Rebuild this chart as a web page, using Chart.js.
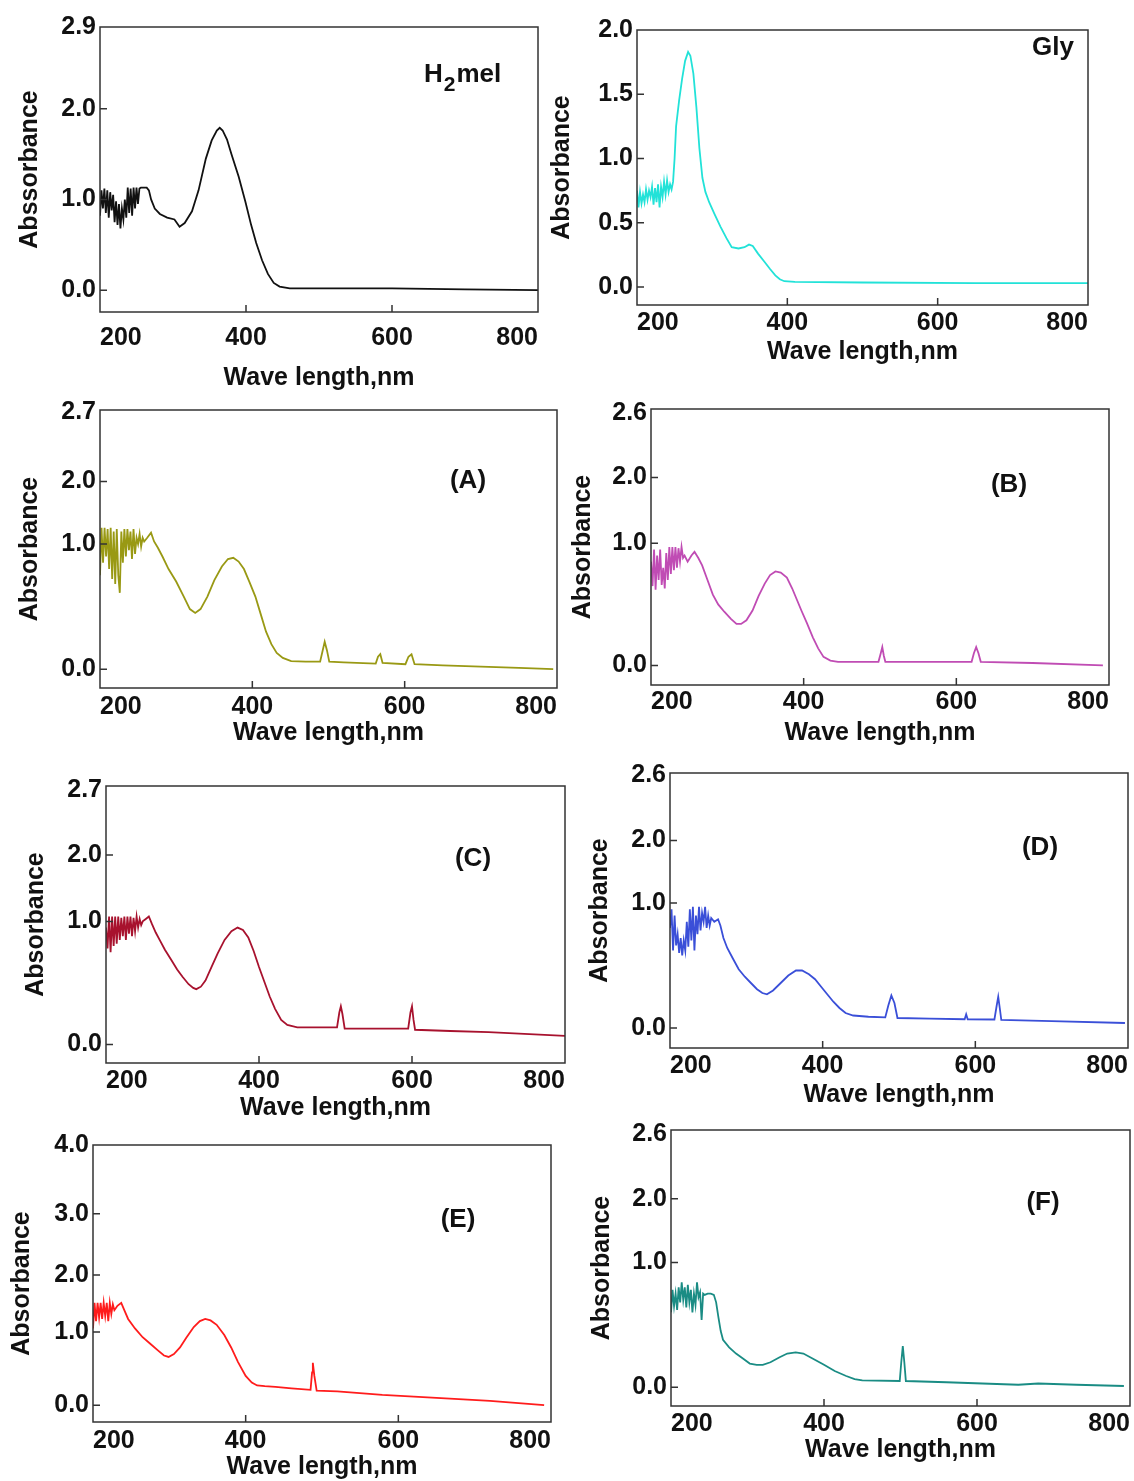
<!DOCTYPE html>
<html>
<head>
<meta charset="utf-8">
<script src="https://cdn.jsdelivr.net/npm/chart.js@4.4.1/dist/chart.umd.min.js"></script>
<style>
  body { margin: 0; background: #fff; }
  #page { position: relative; width: 1134px; height: 1481px; overflow: hidden; background: #fff; }
  .panel { position: absolute; }
</style>
</head>
<body>
<div id="page"></div>
<script>
// x axis (nm) is shared by all panels
const xTicks = [200, 400, 600, 800];

// H2mel (black)
const h2melWl = [200,202,204,206,208,210,212,214,216,218,220,222,224,226,228,230,232,234,236,238,240,242,244,246,248,250,252,254,256,
  260,264,267,270,275,282,292,302,309,316,326,335,345,353,360,364,368,374,380,390,399,407,414,422,430,438,446,460,600,700,800];
const h2melAbs = [0.82,1.10,0.90,1.12,0.85,1.10,0.80,1.08,0.88,1.05,0.75,0.98,0.72,0.95,0.68,0.90,0.78,1.00,0.80,1.13,0.85,1.12,0.82,1.13,0.90,1.13,0.95,1.12,1.13,
  1.13,1.13,1.10,1.00,0.90,0.84,0.80,0.78,0.70,0.74,0.87,1.10,1.45,1.65,1.76,1.79,1.76,1.66,1.50,1.25,0.98,0.72,0.52,0.33,0.18,0.08,0.04,0.02,0.02,0.01,0.0];
const h2melYTicks = [0, 1, 2, 2.9];
const h2melYLabels = ['0.0', '1.0', '2.0', '2.9'];

// Gly (cyan)
const glyWl = [200,202,204,206,208,210,212,214,216,218,220,222,224,226,228,230,232,234,236,238,240,242,244,246,248,
  250,252,256,260,264,268,271,275,279,283,287,291,296,303,311,319,326,335,343,349,354,361,369,377,384,390,396,410,500,650,800];
const glyAbs = [0.75,0.62,0.74,0.65,0.72,0.66,0.76,0.68,0.75,0.70,0.78,0.64,0.77,0.66,0.80,0.62,0.78,0.70,0.82,0.72,0.83,0.74,0.80,0.76,0.82,
  1.00,1.25,1.45,1.62,1.76,1.83,1.80,1.66,1.40,1.08,0.85,0.74,0.66,0.57,0.47,0.38,0.31,0.30,0.31,0.33,0.32,0.26,0.20,0.14,0.09,0.06,0.045,0.04,0.035,0.03,0.03];
const glyYTicks = [0, 0.5, 1, 1.5, 2];
const glyYLabels = ['0.0', '0.5', '1.0', '1.5', '2.0'];

// the source's y axes in panels A-F are unevenly spaced: ticks sit where they are printed
// (A) olive
const aWl = [200,202,204,206,208,210,212,214,216,218,220,222,224,226,228,230,232,234,236,238,240,242,244,246,248,250,252,254,256,258,
  262,267,271,276,282,290,300,310,318,325,332,341,350,360,368,375,382,389,396,404,411,418,425,432,440,451,470,489,492,495,498,501,520,
  562,565,568,571,601,605,609,613,650,700,750,795];
const aAbs = [0.75,1.13,0.85,1.13,0.90,1.12,0.80,1.13,0.72,1.10,0.68,1.12,0.75,0.61,1.10,0.85,1.12,0.90,1.12,0.95,1.10,0.88,1.12,0.92,1.05,1.00,1.08,0.98,1.05,1.02,
  1.05,1.09,1.02,0.97,0.90,0.80,0.70,0.58,0.48,0.45,0.48,0.58,0.71,0.82,0.88,0.89,0.86,0.80,0.70,0.58,0.44,0.30,0.20,0.13,0.09,0.065,0.06,0.06,0.14,0.22,0.15,0.06,0.055,
  0.045,0.10,0.12,0.05,0.04,0.10,0.12,0.04,0.03,0.02,0.01,0.0];
const aYTicks = [0, 1, 1.5, 2.05];
const aYLabels = ['0.0', '1.0', '2.0', '2.7'];

// (B) magenta
const bWl = [200,202,204,206,208,210,212,214,216,218,220,222,224,226,228,230,232,234,236,238,240,242,244,
  248,253,257,262,267,274,281,288,296,305,312,318,325,333,341,349,356,363,370,378,385,391,397,404,412,419,426,435,445,
  498,501,503,505,507,620,623,626,629,632,700,792];
const bAbs = [0.85,0.65,0.95,0.62,0.90,0.70,0.95,0.66,0.80,0.63,0.92,0.70,0.97,0.75,0.97,0.78,0.97,0.80,0.96,0.85,0.97,0.88,0.90,
  0.85,0.90,0.93,0.88,0.82,0.70,0.58,0.50,0.44,0.38,0.34,0.34,0.37,0.45,0.57,0.67,0.74,0.77,0.76,0.72,0.63,0.54,0.45,0.35,0.23,0.14,0.07,0.04,0.03,
  0.03,0.10,0.15,0.08,0.03,0.03,0.10,0.15,0.10,0.03,0.02,0.0];
const bYTicks = [0, 1, 1.54, 2.07];
const bYLabels = ['0.0', '1.0', '2.0', '2.6'];

// (C) dark red
const cWl = [200,202,204,206,208,210,212,214,216,218,220,222,224,226,228,230,232,234,236,238,240,242,244,246,248,
  252,256,260,265,271,277,285,293,300,308,314,318,324,330,338,346,355,364,372,379,386,393,400,407,414,421,429,437,450,467,
  502,505,507,509,512,595,598,600,602,604,650,700,800];
const cAbs = [0.95,0.78,1.04,0.75,1.04,0.80,1.04,0.82,1.04,0.85,1.03,0.88,1.04,0.85,1.04,0.90,1.04,0.88,1.03,0.92,1.04,0.95,1.02,0.97,1.00,
  1.02,1.04,0.98,0.91,0.84,0.77,0.69,0.61,0.55,0.49,0.46,0.45,0.47,0.52,0.63,0.74,0.85,0.92,0.95,0.93,0.87,0.76,0.63,0.51,0.39,0.29,0.20,0.16,0.14,0.14,
  0.14,0.26,0.31,0.25,0.13,0.13,0.26,0.31,0.20,0.12,0.11,0.10,0.07];
const cYTicks = [0, 1, 1.54, 2.07];
const cYLabels = ['0.0', '1.0', '2.0', '2.7'];

// (D) blue
const dWl = [200,202,204,206,208,210,212,214,216,218,220,222,224,226,228,230,232,234,236,238,240,242,244,246,248,250,252,254,
  258,263,266,270,275,282,290,298,306,314,321,327,335,345,355,365,373,382,390,398,406,414,422,430,440,460,
  482,486,490,494,498,540,586,588,590,625,628,630,632,634,700,796];
const dAbs = [0.80,0.95,0.62,0.90,0.66,0.75,0.60,0.72,0.58,0.70,0.62,0.85,0.65,0.95,0.70,0.97,0.62,0.90,0.75,0.97,0.78,0.92,0.85,0.97,0.80,0.90,0.82,0.88,
  0.85,0.87,0.82,0.72,0.64,0.56,0.47,0.41,0.36,0.31,0.28,0.27,0.30,0.36,0.42,0.46,0.46,0.43,0.39,0.33,0.27,0.21,0.16,0.12,0.10,0.09,
  0.085,0.18,0.26,0.20,0.08,0.075,0.07,0.11,0.07,0.068,0.18,0.25,0.16,0.065,0.055,0.04];
const dYTicks = [0, 1, 1.5, 2.02];
const dYLabels = ['0.0', '1.0', '2.0', '2.6'];

// (E) red
const eWl = [200,202,204,206,208,210,212,214,216,218,220,222,224,226,228,
  232,237,241,246,255,265,275,285,293,299,306,314,322,332,340,347,354,362,372,381,390,400,408,415,425,439,460,
  485,487,488,490,493,520,579,650,720,791];
const eAbs = [1.05,1.40,1.15,1.40,1.20,1.40,1.18,1.40,1.22,1.40,1.15,1.40,1.25,1.38,1.30,
  1.36,1.40,1.30,1.18,1.05,0.93,0.84,0.75,0.68,0.66,0.70,0.79,0.92,1.07,1.15,1.18,1.16,1.10,0.96,0.79,0.59,0.40,0.31,0.27,0.26,0.25,0.23,
  0.21,0.45,0.58,0.40,0.20,0.19,0.14,0.10,0.06,0.0];
const eYTicks = [0, 1, 1.78, 2.62, 3.56];
const eYLabels = ['0.0', '1.0', '2.0', '3.0', '4.0'];

// (F) teal
const fWl = [200,202,204,206,208,210,212,214,216,218,220,222,224,226,228,230,232,234,236,238,240,242,244,
  248,252,256,259,262,265,268,276,285,294,303,312,320,330,342,352,363,373,385,400,414,429,440,450,
  499,501,503,505,507,560,654,680,730,792];
const fAbs = [0.60,0.78,0.65,0.75,0.62,0.80,0.68,0.84,0.70,0.80,0.64,0.82,0.68,0.78,0.60,0.75,0.66,0.84,0.72,0.76,0.54,0.75,0.74,
  0.75,0.75,0.74,0.68,0.56,0.45,0.38,0.32,0.27,0.23,0.19,0.18,0.18,0.20,0.24,0.27,0.28,0.27,0.23,0.18,0.13,0.09,0.065,0.055,
  0.05,0.20,0.33,0.20,0.05,0.04,0.02,0.03,0.02,0.01];
const fYTicks = [0, 1, 1.51, 2.03];
const fYLabels = ['0.0', '1.0', '2.0', '2.6'];

// layout: frame = [left, top, right, bottom] of the plot box on the page
const panels = [
  { wl: h2melWl, ab: h2melAbs, yt: h2melYTicks, yl: h2melYLabels, yMin: -0.24, yMax: 2.9, color: '#111111',
    yTitle: 'Abssorbance', label: 'H2mel', frame: [100, 27, 541, 312], yTitleX: 30, xTitleY: 378, tickPad: 11, labelPos: [424, 82] },
  { wl: glyWl, ab: glyAbs, yt: glyYTicks, yl: glyYLabels, yMin: -0.14, yMax: 2.0, color: '#22e2d8',
    yTitle: 'Absorbance', label: 'Gly', frame: [637, 30, 1088, 305], yTitleX: 562, xTitleY: 352, tickPad: 3, labelPos: [1053, 48] },
  { wl: aWl, ab: aAbs, yt: aYTicks, yl: aYLabels, yMin: -0.15, yMax: 2.07, color: '#999914',
    yTitle: 'Absorbance', label: '(A)', frame: [100, 410, 557, 688], yTitleX: 30, xTitleY: 733, tickPad: 4, labelPos: [468, 481] },
  { wl: bWl, ab: bAbs, yt: bYTicks, yl: bYLabels, yMin: -0.16, yMax: 2.1, color: '#c04cb4',
    yTitle: 'Absorbance', label: '(B)', frame: [651, 409, 1109, 685], yTitleX: 583, xTitleY: 733, tickPad: 2, labelPos: [1009, 485] },
  { wl: cWl, ab: cAbs, yt: cYTicks, yl: cYLabels, yMin: -0.15, yMax: 2.1, color: '#a8122e',
    yTitle: 'Absorbance', label: '(C)', frame: [106, 786, 565, 1063], yTitleX: 36, xTitleY: 1108, tickPad: 3, labelPos: [473, 859] },
  { wl: dWl, ab: dAbs, yt: dYTicks, yl: dYLabels, yMin: -0.16, yMax: 2.04, color: '#3a4fd8',
    yTitle: 'Absorbance', label: '(D)', frame: [670, 773, 1128, 1048], yTitleX: 600, xTitleY: 1095, tickPad: 3, labelPos: [1040, 848] },
  { wl: eWl, ab: eAbs, yt: eYTicks, yl: eYLabels, yMin: -0.23, yMax: 3.56, color: '#ff1c1c',
    yTitle: 'Absorbance', label: '(E)', frame: [93, 1145, 551, 1422], yTitleX: 22, xTitleY: 1467, tickPad: 4, labelPos: [458, 1220] },
  { wl: fWl, ab: fAbs, yt: fYTicks, yl: fYLabels, yMin: -0.15, yMax: 2.06, color: '#1a8c84',
    yTitle: 'Absorbance', label: '(F)', frame: [671, 1130, 1130, 1406], yTitleX: 602, xTitleY: 1450, tickPad: 3, labelPos: [1043, 1203] }
];

Chart.defaults.font.family = '"Liberation Sans", Arial, sans-serif';
Chart.defaults.color = '#111';

const FONT = { size: 25, weight: 'bold' };
const TOP_PAD = 22, RIGHT_PAD = 8;

// box round the plot, inward tick marks and the panel tag
const framePlugin = {
  id: 'frame',
  afterDatasetsDraw(chart, args, opts) {
    const { ctx, chartArea: a, scales: { x, y } } = chart;
    ctx.save();
    ctx.strokeStyle = '#333';
    ctx.lineWidth = 1.5;
    ctx.strokeRect(a.left, a.top, a.right - a.left, a.bottom - a.top);
    ctx.beginPath();
    y.ticks.forEach(t => {
      const py = y.getPixelForValue(t.value);
      if (py > a.top + 4) { ctx.moveTo(a.left, py); ctx.lineTo(a.left + 7, py); }
    });
    x.ticks.forEach(t => {
      const px = x.getPixelForValue(t.value);
      if (px > a.left + 4 && px < a.right - 4) { ctx.moveTo(px, a.bottom); ctx.lineTo(px, a.bottom - 7); }
    });
    ctx.stroke();

    ctx.fillStyle = '#111';
    ctx.textBaseline = 'alphabetic';
    if (opts.label === 'H2mel') {
      let px = opts.x;
      ctx.textAlign = 'left';
      ctx.font = 'bold 26px "Liberation Sans", Arial, sans-serif';
      ctx.fillText('H', px, opts.y);
      px += ctx.measureText('H').width + 1;
      ctx.font = 'bold 21px "Liberation Sans", Arial, sans-serif';
      ctx.fillText('2', px, opts.y + 9);
      px += ctx.measureText('2').width + 1;
      ctx.font = 'bold 26px "Liberation Sans", Arial, sans-serif';
      ctx.fillText('mel', px, opts.y);
    } else {
      ctx.textAlign = 'center';
      ctx.textBaseline = 'middle';
      ctx.font = 'bold 26px "Liberation Sans", Arial, sans-serif';
      ctx.fillText(opts.label, opts.x, opts.y);
    }
    ctx.restore();
  }
};

const page = document.getElementById('page');

panels.forEach(p => {
  const [L, T, R, B] = p.frame;
  const left = p.yTitleX - 15;
  const top = T - TOP_PAD;
  const yAxisW = L - left;
  const xAxisH = p.xTitleY - B + 15;
  const w = yAxisW + (R - L) + RIGHT_PAD;
  const h = TOP_PAD + (B - T) + xAxisH;

  const box = document.createElement('div');
  box.className = 'panel';
  box.style.left = left + 'px';
  box.style.top = top + 'px';
  const cv = document.createElement('canvas');
  cv.width = w; cv.height = h;
  cv.style.width = w + 'px'; cv.style.height = h + 'px';
  box.appendChild(cv);
  page.appendChild(box);

  new Chart(cv.getContext('2d'), {
    type: 'line',
    data: {
      datasets: [{
        data: p.wl.map((v, i) => ({ x: v, y: p.ab[i] })),
        borderColor: p.color,
        borderWidth: 1.8,
        pointRadius: 0,
        tension: 0,
        fill: false
      }]
    },
    options: {
      responsive: false,
      animation: false,
      devicePixelRatio: 1,
      layout: { padding: { top: TOP_PAD, right: RIGHT_PAD, left: 0, bottom: 0 } },
      plugins: {
        legend: { display: false },
        tooltip: { enabled: false },
        frame: {
          label: p.label,
          x: p.labelPos[0] - left,
          y: p.labelPos[1] - top
        }
      },
      scales: {
        x: {
          type: 'linear',
          min: 200, max: 800,
          afterBuildTicks: s => { s.ticks = xTicks.map(v => ({ value: v })); },
          afterFit: s => { s.height = xAxisH; },
          grid: { display: false, drawTicks: false },
          border: { display: false },
          ticks: { font: FONT, color: '#111', padding: p.tickPad, align: 'inner', autoSkip: false, maxRotation: 0,
            callback: v => String(v) },
          title: { display: true, text: 'Wave length,nm', font: FONT, color: '#111', padding: 0 }
        },
        y: {
          type: 'linear',
          min: p.yMin, max: p.yMax,
          afterBuildTicks: s => { s.ticks = p.yt.map(v => ({ value: v })); },
          afterFit: s => { s.width = yAxisW; },
          grid: { display: false, drawTicks: false },
          border: { display: false },
          ticks: { font: FONT, color: '#111', padding: 4, autoSkip: false,
            callback: (v, i) => p.yl[i] },
          title: { display: true, text: p.yTitle, font: FONT, color: '#111', padding: 0 }
        }
      }
    },
    plugins: [framePlugin]
  });
});
</script>
</body>
</html>
